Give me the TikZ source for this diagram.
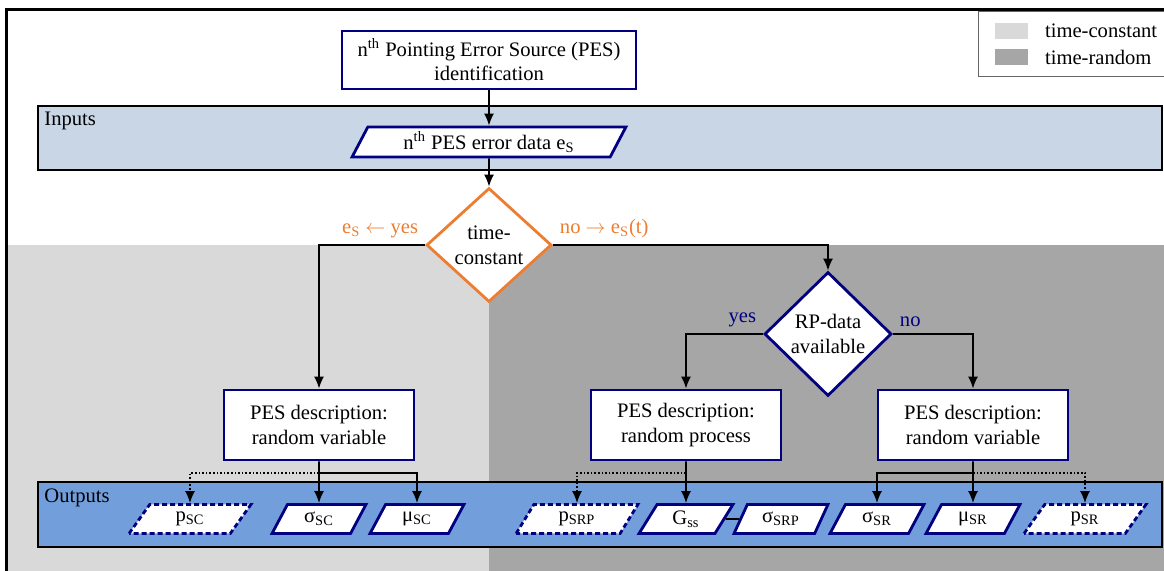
\documentclass[tikz,border=0pt]{standalone}
\usepackage{fontspec}
\setmainfont{Liberation Serif}
\usetikzlibrary{arrows.meta,positioning,shapes.geometric}

\definecolor{pesnavy}{RGB}{0,0,128}
\definecolor{pesorange}{RGB}{237,125,49}
\definecolor{inblue}{RGB}{200,214,229}
\definecolor{outblue}{RGB}{114,159,219}
\definecolor{tconst}{RGB}{217,217,217}
\definecolor{trand}{RGB}{166,166,166}

\begin{document}
\begin{tikzpicture}
		[x=0.5pt,y=-0.5pt,font=\fontsize{10.3}{12.3}\selectfont,
		proc/.style={draw=pesnavy,line width=1.4pt,fill=white,align=center,minimum width=95pt,minimum height=35pt},
		decision/.style={diamond,draw=pesnavy,line width=1.4pt,fill=white,align=center,inner sep=0pt},
		data/.style={trapezium,trapezium left angle=65,trapezium right angle=115,trapezium stretches=true,
			draw=pesnavy,line width=1.4pt,fill=white,minimum width=47pt,minimum height=14.5pt,inner sep=1pt},
		optdata/.style={data,dash pattern=on 2.5pt off 1.5pt,minimum width=61pt},
		band/.style={draw=black,line width=0.6pt,minimum width=562pt},
		conn/.style={line width=0.8pt,-{Latex[length=6pt,width=5pt]}}]
		
		\useasboundingbox (0,0) rectangle (1164,571);
		\clip (0,0) rectangle (1164,571);
		
		% time-constant / time-random areas
		\fill[tconst] (6,245) rectangle (489,580);
		\fill[trand] (489,245) rectangle (1170,580);
		\draw[line width=1.5pt] (6,10) rectangle (1180,590);
		
		% legend
		\draw[black!60,line width=0.5pt,fill=white] (978,12) rectangle (1180,77);
		\fill[tconst] (995,23) rectangle (1028,39);
		\fill[trand] (995,49) rectangle (1028,65);
		\node[anchor=west] (lgc) at (1038,31) {time-constant};
		\node[anchor=west] (lgr) at (1038,57) {time-random};
		
		% bands
		\node[band,fill=inblue,minimum height=32pt] (inputs) at (600,138) {};
		\node[anchor=north west] (inlbl) at (inputs.north west) {Inputs};
		\node[band,fill=outblue,minimum height=32.5pt] (outputs) at (600,514.5) {};
		\node[anchor=north west] (outlbl) at (outputs.north west) {Outputs};
		
		\node[proc,minimum width=147pt,minimum height=29pt] (pes) at (489,60) {n\textsuperscript{th} Pointing Error Source (PES)\\identification};
		\node[data,minimum width=137pt,minimum height=15pt] (edata) at (489,142) {n\textsuperscript{th} PES error data e\textsubscript{S}};
		\node[decision,draw=pesorange,minimum width=62.5pt,minimum height=57pt] (tc) at (489,245) {time-\\constant};
		\node[decision,minimum width=63.5pt,minimum height=62pt] (rp) at (828,334) {RP-data\\available};
		
		\node[proc] (rvc) at (319,425) {PES description:\\random variable};
		\node[proc] (rpr) at (686,425) {PES description:\\random process};
		\node[proc] (rvr) at (973,425) {PES description:\\random variable};
		
		\node[optdata] (psc) at (190,519) {p\textsubscript{SC}};
		\node[data] (ssc) at (319,519) {σ\textsubscript{SC}};
		\node[data] (msc) at (417,519) {μ\textsubscript{SC}};
		\node[optdata] (psrp) at (577,519) {p\textsubscript{SRP}};
		\node[data] (gss) at (686,519) {G\textsubscript{ss}};
		\node[data] (ssrp) at (781,519) {σ\textsubscript{SRP}};
		\node[data] (ssr) at (877,519) {σ\textsubscript{SR}};
		\node[data] (msr) at (973,519) {μ\textsubscript{SR}};
		\node[optdata] (psr) at (1085,519) {p\textsubscript{SR}};
		
		\node[text=pesorange,anchor=south east] (tcyes) at (tc.west) {e\textsubscript{S} $\leftarrow$ yes};
		\node[text=pesorange,anchor=south west] (tcno) at (tc.east) {no $\rightarrow$ e\textsubscript{S}(t)};
		\node[text=pesnavy,anchor=south east] (rpyes) at (rp.west) {yes};
		\node[text=pesnavy,anchor=south west] (rpno) at (rp.east) {no};
		
		\draw[conn] (pes) -- (edata);
		\draw[conn] (edata) -- (tc);
		\draw[conn] (tc.west) -| (rvc.north);
		\draw[conn] (tc.east) -| (rp.north);
		\draw[conn] (rp.west) -| (rpr.north);
		\draw[conn] (rp.east) -| (rvr.north);
		
		\coordinate (jl) at (319,473);
		\coordinate (jm) at (686,473);
		\coordinate (jr) at (973,473);
		\draw[conn] (rvc.south) -- (ssc.north);
		\draw[conn] (jl) -| (msc.north);
		\draw[conn,densely dotted] (jl) -| (psc.north);
		\draw[conn] (rpr.south) -- (gss.north);
		\draw[conn,densely dotted] (jm) -| (psrp.north);
		\draw[conn] (rvr.south) -- (msr.north);
		\draw[conn] (jr) -| (ssr.north);
		\draw[conn,densely dotted] (jr) -| (psr.north);
		\draw[line width=0.8pt] (gss.east) -- (ssrp.west);
		\end{tikzpicture}
\end{document}
